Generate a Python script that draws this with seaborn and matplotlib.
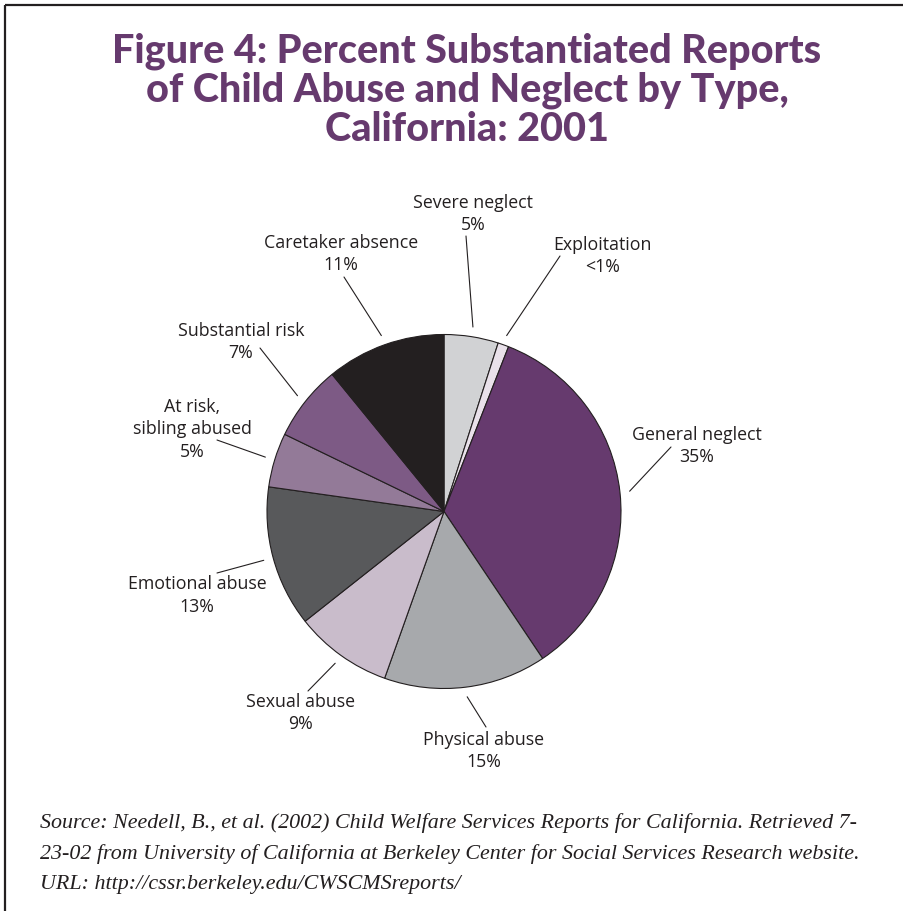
import numpy as np
import matplotlib
matplotlib.use("Agg")
import matplotlib.pyplot as plt
import seaborn as sns

# Pie data, clockwise from 12 o'clock
categories = ["Severe neglect", "Exploitation", "General neglect", "Physical abuse",
              "Sexual abuse", "Emotional abuse", "At risk,\nsibling abused",
              "Substantial risk", "Caretaker absence"]
values = [5, 1, 35, 15, 9, 13, 5, 7, 11]
pct_labels = ["5%", "<1%", "35%", "15%", "9%", "13%", "5%", "7%", "11%"]
colors = ["#d1d2d4", "#e9e1ea", "#663a6e", "#a7a9ac", "#c9bccb",
          "#58595b", "#937a98", "#7d5a85", "#231f20"]

title_lines = ["Figure 4: Percent Substantiated Reports",
               "of Child Abuse and Neglect by Type,",
               "California: 2001"]
source_lines = ["Source: Needell, B., et al. (2002) Child Welfare Services Reports for California. Retrieved 7-",
                "23-02 from University of California at Berkeley Center for Social Services Research website.",
                "URL: http://cssr.berkeley.edu/CWSCMSreports/"]

W, H = 904, 911
sns.set_theme(style="white")
plt.rcParams["font.family"] = ["Open Sans", "DejaVu Sans"]

fig = plt.figure(figsize=(W / 100, H / 100), dpi=100)
ax = fig.add_axes([0, 0, 1, 1])

# layout (pixel coords measured from the top)
cx, cy, R = 444, H - 511.5, 177
label_pos = [(473, 203), (603, 245), (697, 435), (484, 740), (301, 702),
             (197, 584), (192, 407), (241, 331), (341, 243)]
line_end = [(466, 236), (560, 256), (671, 447), (486, 727), (308, 691),
            (217, 573), (217, 440), (260, 348), (344, 277)]
ink = "#231f20"

wedges, _ = ax.pie(values, colors=colors, startangle=90, counterclock=False,
                   center=(cx, cy), radius=R, frame=True,
                   wedgeprops=dict(edgecolor=ink, linewidth=0.8))

for w, cat, pct, (lx, ly), (ex, ey) in zip(wedges, categories, pct_labels, label_pos, line_end):
    mid = np.deg2rad((w.theta1 + w.theta2) / 2)
    sx, sy = cx + 1.055 * R * np.cos(mid), cy + 1.055 * R * np.sin(mid)
    ax.plot([sx, ex], [sy, H - ey], color=ink, lw=0.8)
    for i, txt in enumerate((cat + "\n" + pct).split("\n")):
        ax.text(lx, H - ly - i * 22.5, txt, ha="center", va="center",
                fontsize=12.8, color=ink)

for i, txt in enumerate(title_lines):
    ax.text(467, H - 51 - i * 39, txt, ha="center", va="center", fontsize=28.5,
            fontweight="black", color="#663a6e", family=["Lato", "DejaVu Sans"])

for i, txt in enumerate(source_lines):
    ax.text(40, H - 823 - i * 31, txt, ha="left", va="center", fontsize=15.8,
            fontstyle="italic", color=ink, family=["Liberation Serif", "DejaVu Serif"])

# frame lines (top and left)
ax.plot([5, 903], [H - 5, H - 5], color=ink, lw=1.6, solid_capstyle="butt")
ax.plot([5, 5], [H - 5, 0], color=ink, lw=1.6, solid_capstyle="butt")

ax.set_xlim(0, W)
ax.set_ylim(0, H)
ax.set_aspect("equal")
ax.axis("off")

fig.savefig("out.png", dpi=100)
